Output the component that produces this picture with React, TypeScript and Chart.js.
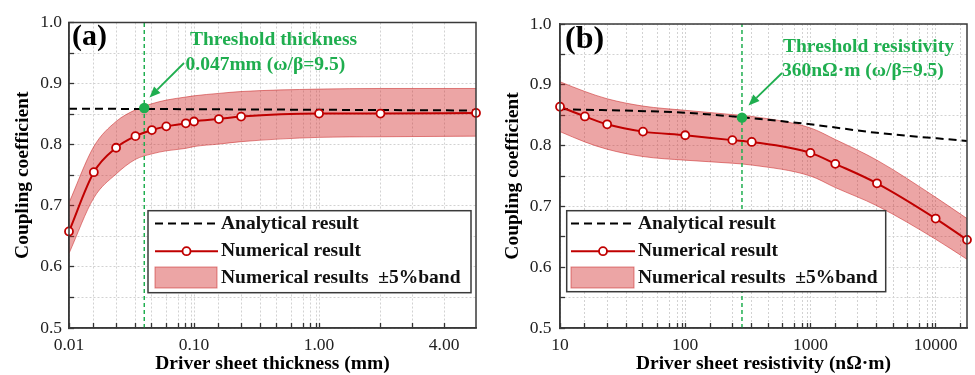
import React, { useEffect, useRef } from 'react';
import { Chart, registerables } from 'chart.js';

Chart.register(...registerables);

const SERIF = "'Liberation Serif', 'Times New Roman', Times, serif";
const RED = '#c00000';
const GREEN = '#1fae4f';
const BAND_FILL = 'rgba(210, 40, 40, 0.42)';
const BAND_EDGE = 'rgba(200, 40, 40, 0.55)';

// ---------- Panel (a): thickness ----------
const A_X = [0.01, 0.0158, 0.0238, 0.034, 0.046, 0.06, 0.086, 0.1, 0.158, 0.238, 1.0, 3.1, 18];
const A_NUM = [0.658, 0.755, 0.795, 0.814, 0.824, 0.83, 0.835, 0.838, 0.842, 0.846, 0.851, 0.851, 0.852];
const A_UPPER = [0.705, 0.797, 0.838, 0.857, 0.867, 0.873, 0.878, 0.88, 0.884, 0.887, 0.891, 0.892, 0.892];
const A_LOWER = [0.622, 0.713, 0.752, 0.776, 0.785, 0.79, 0.794, 0.797, 0.801, 0.805, 0.812, 0.813, 0.814];
const A_ANALYTIC_X = [0.01, 18];
const A_ANALYTIC_Y = [0.859, 0.856];
const A_THRESHOLD_X = 0.04;
const A_THRESHOLD_Y = 0.86;
const A_X_MIN = 0.01;
const A_X_MAX = 18;
const A_X_TICKS = [
  0.01, 0.0158, 0.0238, 0.034, 0.046, 0.06, 0.075, 0.086, 0.095,
  0.1, 0.158, 0.238, 0.34, 0.46, 0.6, 0.75, 0.86, 0.95,
  1, 3.1, 5.6, 10,
];
const A_X_LABEL_VALUES = [0.01, 0.1, 1, 10];
const A_X_LABELS = ['0.01', '0.10', '1.00', '4.00'];

// ---------- Panel (b): resistivity ----------
const B_X = [10, 15.8, 23.8, 46, 100, 238, 340, 1000, 1580, 3400, 10000, 17800];
const B_NUM = [0.864, 0.848, 0.835, 0.823, 0.817, 0.809, 0.806, 0.788, 0.77, 0.738, 0.68, 0.645];
const B_UPPER = [0.905, 0.889, 0.877, 0.865, 0.858, 0.851, 0.848, 0.829, 0.81, 0.776, 0.715, 0.68];
const B_LOWER = [0.823, 0.806, 0.794, 0.782, 0.776, 0.771, 0.768, 0.75, 0.731, 0.701, 0.646, 0.613];
const B_ANALYTIC_X = [10, 100, 284, 1000, 3400, 17800];
const B_ANALYTIC_Y = [0.86, 0.854, 0.8465, 0.835, 0.821, 0.8077];
const B_THRESHOLD_X = 284;
const B_THRESHOLD_Y = 0.846;
const B_X_MIN = 10;
const B_X_MAX = 17800;
const B_X_TICKS = [
  10, 15.8, 23.8, 34, 46, 60, 75, 86, 95,
  100, 158, 238, 340, 460, 600, 750, 860, 950,
  1000, 1580, 2380, 3400, 4600, 6000, 7500, 8600, 9500,
  10000, 15800,
];
const B_X_LABEL_VALUES = [10, 100, 1000, 10000];
const B_X_LABELS = ['10', '100', '1000', '10000'];

// ---------- shared Y axis ----------
const Y_TICKS = [0.5, 0.55, 0.6, 0.65, 0.7, 0.75, 0.8, 0.85, 0.9, 0.95, 1.0];
const Y_LABEL_VALUES = [0.5, 0.6, 0.7, 0.8, 0.9, 1.0];
const Y_LABELS = ['0.5', '0.6', '0.7', '0.8', '0.9', '1.0'];

const LEGEND_LABELS = ['Analytical result', 'Numerical result', 'Numerical results\u2002\u00b15%band'];

function lookupLabel(v: number, vals: number[], labels: string[]) {
  for (let i = 0; i < vals.length; i++) {
    if (Math.abs(v - vals[i]) <= Math.abs(vals[i]) * 1e-6) return labels[i];
  }
  return '';
}

const pts = (xs: number[], ys: number[]) => xs.map((x, i) => ({ x, y: ys[i] }));

type Panel = {
  x: number[]; num: number[]; upper: number[]; lower: number[];
  ax: number[]; ay: number[]; tx: number; ty: number;
  xmin: number; xmax: number; xticks: number[]; xlv: number[]; xl: string[];
  xTitle: string;
  yWidth: number; yPad: number; yTitlePad: number; padRight: number;
  tag: string; tagX: number; tagY: number; tagSize: number;
  note: string[]; noteX: number[]; noteY: number[];
  arrowFrom: [number, number]; arrowTo: [number, number];
  legend: { x: number; y: number; w: number; h: number; sx: number; sw: number; tx: number };
};

function decorPlugin(p: Panel) {
  return {
    id: 'decor',
    afterDraw(chart: any) {
      const ctx: CanvasRenderingContext2D = chart.ctx;
      const a = chart.chartArea;
      ctx.save();
      // frame
      ctx.strokeStyle = '#3a3a3a';
      ctx.lineWidth = 1.5;
      ctx.setLineDash([]);
      ctx.strokeRect(a.left, a.top, a.right - a.left, a.bottom - a.top);

      // legend
      const L = p.legend;
      ctx.fillStyle = '#ffffff';
      ctx.fillRect(L.x, L.y, L.w, L.h);
      ctx.strokeStyle = '#3a3a3a';
      ctx.lineWidth = 1.5;
      ctx.strokeRect(L.x, L.y, L.w, L.h);
      const r1 = L.y + 12.8, r2 = L.y + 40.5, r3 = L.y + 66.8;
      ctx.strokeStyle = '#000';
      ctx.lineWidth = 2;
      ctx.setLineDash([8, 5]);
      ctx.beginPath(); ctx.moveTo(L.sx, r1); ctx.lineTo(L.sx + L.sw, r1); ctx.stroke();
      ctx.setLineDash([]);
      ctx.strokeStyle = RED;
      ctx.beginPath(); ctx.moveTo(L.sx, r2); ctx.lineTo(L.sx + L.sw, r2); ctx.stroke();
      ctx.fillStyle = '#fff';
      ctx.lineWidth = 1.8;
      ctx.beginPath(); ctx.arc(L.sx + L.sw / 2, r2, 4, 0, Math.PI * 2); ctx.fill(); ctx.stroke();
      ctx.fillStyle = BAND_FILL;
      ctx.fillRect(L.sx, r3 - 10.5, L.sw - 1, 21);
      ctx.strokeStyle = BAND_EDGE;
      ctx.lineWidth = 1;
      ctx.strokeRect(L.sx, r3 - 10.5, L.sw - 1, 21);
      ctx.fillStyle = '#111';
      ctx.font = `bold 19.5px ${SERIF}`;
      ctx.textBaseline = 'middle';
      ctx.textAlign = 'left';
      ctx.fillText(LEGEND_LABELS[0], L.tx, r1);
      ctx.fillText(LEGEND_LABELS[1], L.tx, r2);
      ctx.fillText(LEGEND_LABELS[2], L.tx, r3);

      // panel tag
      ctx.fillStyle = '#000';
      ctx.font = `bold ${p.tagSize}px ${SERIF}`;
      ctx.fillText(p.tag, p.tagX, p.tagY);

      // threshold annotation
      ctx.fillStyle = GREEN;
      ctx.font = `bold 19.5px ${SERIF}`;
      p.note.forEach((t, i) => ctx.fillText(t, p.noteX[i], p.noteY[i]));

      // arrow
      const [x0, y0] = p.arrowFrom;
      const [x1, y1] = p.arrowTo;
      const ang = Math.atan2(y1 - y0, x1 - x0);
      const hl = 11, hw = 4.5;
      const bx = x1 - hl * Math.cos(ang), by = y1 - hl * Math.sin(ang);
      ctx.strokeStyle = GREEN;
      ctx.lineWidth = 1.8;
      ctx.beginPath(); ctx.moveTo(x0, y0); ctx.lineTo(bx, by); ctx.stroke();
      ctx.beginPath();
      ctx.moveTo(x1, y1);
      ctx.lineTo(bx + hw * Math.sin(ang), by - hw * Math.cos(ang));
      ctx.lineTo(bx - hw * Math.sin(ang), by + hw * Math.cos(ang));
      ctx.closePath();
      ctx.fill();
      ctx.restore();
    },
  };
}

function makeConfig(p: Panel): any {
  const tickFont = { family: SERIF, size: 17.5 };
  const titleFont = { family: SERIF, size: 19.5, weight: 'bold' };
  const grid = {
    color: '#d2d2d2', lineWidth: 1, drawTicks: true, tickLength: -5,
    tickColor: '#333', tickWidth: 1.3, tickBorderDash: [],
  };
  const border = { display: true, color: '#3a3a3a', width: 1.5, dash: [2, 2] };
  return {
    type: 'line',
    data: {
      datasets: [
        {
          data: [{ x: p.tx, y: p.ty }],
          showLine: false,
          pointRadius: 5.2,
          pointBackgroundColor: GREEN,
          pointBorderWidth: 0,
          clip: false,
        },
        {
          data: pts(p.x, p.num),
          borderColor: RED,
          borderWidth: 2,
          pointRadius: 4,
          pointBackgroundColor: '#fff',
          pointBorderColor: RED,
          pointBorderWidth: 1.8,
          cubicInterpolationMode: 'monotone',
          clip: false,
        },
        {
          data: [{ x: p.tx, y: 0.5 }, { x: p.tx, y: 1.0 }],
          borderColor: GREEN,
          borderWidth: 1.5,
          borderDash: [4, 3],
          pointRadius: 0,
        },
        {
          data: pts(p.ax, p.ay),
          borderColor: '#000',
          borderWidth: 2,
          borderDash: [8, 5],
          pointRadius: 0,
          cubicInterpolationMode: 'monotone',
        },
        {
          data: pts(p.x, p.upper),
          borderColor: BAND_EDGE,
          borderWidth: 1,
          backgroundColor: BAND_FILL,
          fill: '+1',
          pointRadius: 0,
          cubicInterpolationMode: 'monotone',
        },
        {
          data: pts(p.x, p.lower),
          borderColor: BAND_EDGE,
          borderWidth: 1,
          fill: false,
          pointRadius: 0,
          cubicInterpolationMode: 'monotone',
        },
      ],
    },
    options: {
      responsive: false,
      animation: false,
      events: [],
      layout: { padding: { left: 0, top: 16, right: p.padRight, bottom: 0 } },
      plugins: { legend: { display: false }, tooltip: { enabled: false } },
      scales: {
        x: {
          type: 'logarithmic',
          min: p.xmin,
          max: p.xmax,
          afterBuildTicks: (s: any) => { s.ticks = p.xticks.map((v) => ({ value: v })); },
          afterFit: (s: any) => { s.height = 47; },
          ticks: {
            autoSkip: false, maxRotation: 0, minRotation: 0, padding: 12,
            color: '#222', font: tickFont,
            callback: (v: any) => lookupLabel(Number(v), p.xlv, p.xl),
          },
          grid,
          border,
          title: { display: true, text: p.xTitle, color: '#000', font: titleFont, padding: { top: 0, bottom: -1 } },
        },
        y: {
          type: 'linear',
          min: 0.5,
          max: 1.0,
          afterBuildTicks: (s: any) => { s.ticks = Y_TICKS.map((v) => ({ value: v })); },
          afterFit: (s: any) => { s.width = p.yWidth; },
          ticks: {
            padding: p.yPad, color: '#222', font: tickFont,
            callback: (v: any) => lookupLabel(Number(v), Y_LABEL_VALUES, Y_LABELS),
          },
          grid,
          border,
          title: { display: true, text: 'Coupling coefficient', color: '#000', font: titleFont, padding: { top: p.yTitlePad, bottom: 0 } },
        },
      },
    },
    plugins: [decorPlugin(p)],
  };
}

const PANEL_A: Panel = {
  x: A_X, num: A_NUM, upper: A_UPPER, lower: A_LOWER,
  ax: A_ANALYTIC_X, ay: A_ANALYTIC_Y, tx: A_THRESHOLD_X, ty: A_THRESHOLD_Y,
  xmin: A_X_MIN, xmax: A_X_MAX, xticks: A_X_TICKS, xlv: A_X_LABEL_VALUES, xl: A_X_LABELS,
  xTitle: 'Driver sheet thickness (mm)',
  yWidth: 69, yPad: 12, yTitlePad: 11.3, padRight: 11,
  tag: '(a)', tagX: 72, tagY: 37, tagSize: 30,
  note: ['Threshold thickness', '0.047mm (\u03c9/\u03b2=9.5)'], noteX: [190, 185.5], noteY: [40, 64.5],
  arrowFrom: [184, 63], arrowTo: [149.5, 97.5],
  legend: { x: 148, y: 210.7, w: 323, h: 82, sx: 155, sw: 63, tx: 221 },
};

const PANEL_B: Panel = {
  x: B_X, num: B_NUM, upper: B_UPPER, lower: B_LOWER,
  ax: B_ANALYTIC_X, ay: B_ANALYTIC_Y, tx: B_THRESHOLD_X, ty: B_THRESHOLD_Y,
  xmin: B_X_MIN, xmax: B_X_MAX, xticks: B_X_TICKS, xlv: B_X_LABEL_VALUES, xl: B_X_LABELS,
  xTitle: 'Driver sheet resistivity (n\u03a9\u00b7m)',
  yWidth: 73, yPad: 13.5, yTitlePad: 13.8, padRight: 8,
  tag: '(b)', tagX: 78, tagY: 40, tagSize: 32,
  note: ['Threshold resistivity', '360n\u03a9\u00b7m (\u03c9/\u03b2=9.5)'], noteX: [296, 295], noteY: [46.5, 70.5],
  arrowFrom: [295, 73], arrowTo: [261.5, 105.5],
  legend: { x: 79.7, y: 210.7, w: 319, h: 81, sx: 84, sw: 64, tx: 151 },
};

function ChartCanvas({ panel, width }: { panel: Panel; width: number }) {
  const ref = useRef<HTMLCanvasElement | null>(null);
  useEffect(() => {
    if (!ref.current) return;
    const chart = new Chart(ref.current, makeConfig(panel));
    return () => chart.destroy();
  }, [panel]);
  return <canvas ref={ref} width={width} height={375} style={{ display: 'block', width, height: 375 }} />;
}

export default function App() {
  return (
    <div style={{ position: 'absolute', left: 0, top: 0, width: 975, height: 375, display: 'flex', background: '#fff' }}>
      <ChartCanvas panel={PANEL_A} width={487} />
      <ChartCanvas panel={PANEL_B} width={488} />
    </div>
  );
}
